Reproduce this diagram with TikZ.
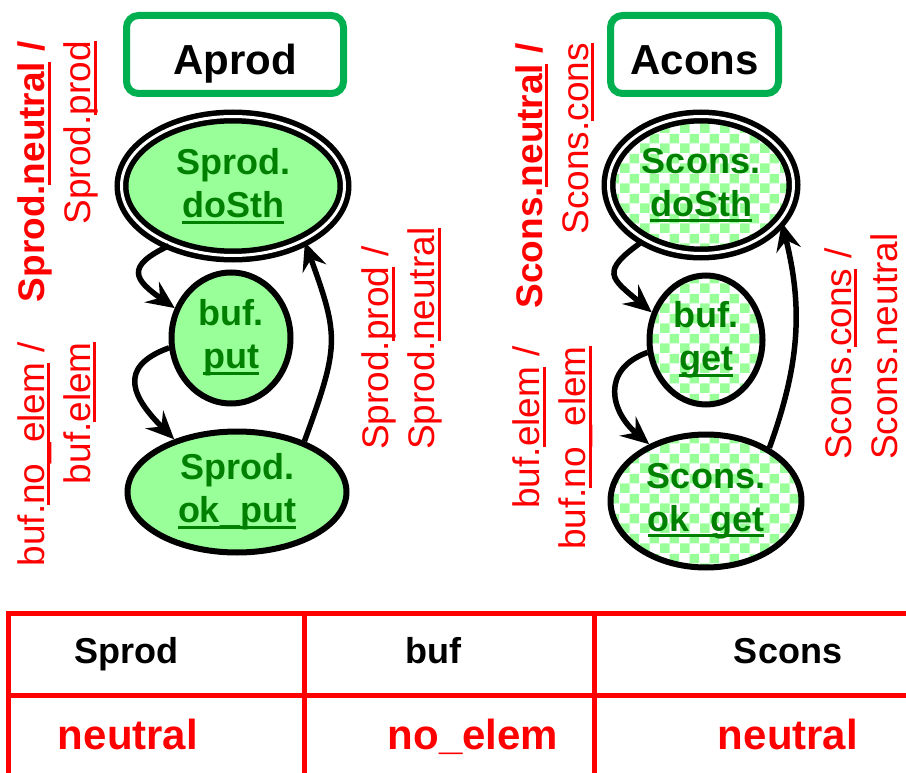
\documentclass[tikz,border=0pt]{standalone}
\usepackage{fontspec}
\setmainfont{Liberation Sans}
\usepackage{tikz}
\usetikzlibrary{positioning,shapes.geometric,arrows.meta,patterns.meta}

\definecolor{boxgreen}{RGB}{0,176,80}
\definecolor{textgreen}{RGB}{0,128,0}
\definecolor{lightgreen}{RGB}{153,255,153}

% thick underline in the current colour
\newsavebox{\ulbox}
\newcommand{\ulw}[1]{\sbox{\ulbox}{#1}\rlap{\rule[-6pt]{\wd\ulbox}{3pt}}\usebox{\ulbox}}

% checkerboard fill for the consumer places
\tikzdeclarepattern{
  name=checks,
  type=uncolored,
  bounding box={(0pt,0pt) and (20pt,20pt)},
  tile size={(20pt,20pt)},
  code={
    \fill (0pt,0pt) rectangle (10pt,10pt);
    \fill (10pt,10pt) rectangle (20pt,20pt);
  }
}

\begin{document}
\begin{tikzpicture}[x=1pt,y=1pt]
        \tikzstyle{procbox} = [rectangle, rounded corners=12pt, draw=boxgreen, line width=7pt, minimum width=217pt, minimum height=78pt, text height=40pt, text depth=0pt, font=\fontsize{42}{48}\selectfont\bfseries]
        \tikzstyle{place} = [ellipse, draw=black, line width=6pt, fill=lightgreen, text=textgreen, align=center, inner sep=0pt, font=\fontsize{36}{43}\selectfont\bfseries]
        \tikzstyle{checkplace} = [place, fill=none, pattern=checks, pattern color=lightgreen]
        \tikzstyle{doubleplace} = [line width=5.5pt, double, double distance=3pt]
        \tikzstyle{tlabel} = [red, rotate=90, inner sep=0pt, font=\fontsize{37}{46}\selectfont]
        \tikzstyle{arrow} = [line width=5.5pt, -{Stealth[length=28pt,width=25pt,inset=10pt]}]
        \tikzstyle{tabline} = [red, line width=5pt, line join=miter]
        \tikzstyle{headcell} = [anchor=base, inner sep=0pt, font=\fontsize{36}{42}\selectfont\bfseries]
        \tikzstyle{valcell} = [anchor=base, inner sep=0pt, red, font=\fontsize{42}{48}\selectfont\bfseries]

        \useasboundingbox (0,0) rectangle (906,-773);

        % producer
        \node (aprod) [procbox] at (235,-54.5) {Aprod};
        \node (sd) [place, doubleplace, minimum width=223pt, minimum height=139pt] at (233,-186) {Sprod.\\\ulw{doSth}};
        \node (bp) [place, minimum width=119pt, minimum height=131pt] at (231,-338) {buf.\\\ulw{put}};
        \node (op) [place, minimum width=219pt, minimum height=121pt] at (237,-492) {Sprod.\\\ulw{ok\_put}};

        \draw [arrow] (sd.223) to[out=205, in=145, looseness=2] (bp.152);
        \draw [arrow] (bp.189) to[out=200, in=135, looseness=1.6] (op.140);
        \draw [arrow] (op.37) to[out=70, in=-70, looseness=1.3] (sd.322);

        \node (lt) [tlabel, align=right, anchor=east] at (58,-41) {{\bfseries Sprod.\ulw{neutral} /}\\Sprod.\ulw{prod}};
        \node (lb) [tlabel, align=right, anchor=east] at (57,-342) {buf.\ulw{no\_elem} /\\buf.\ulw{elem}};
        \node (lm) [tlabel, align=left, anchor=west] at (402,-450) {Sprod.\ulw{prod} /\\Sprod.\ulw{neutral}};

        % consumer
        \node (acons) [procbox, minimum width=168pt] at (694.5,-54.5) {Acons};
        \node (sc) [checkplace, doubleplace, minimum width=185pt, minimum height=137pt] at (701,-185) {Scons.\\\ulw{doSth}};
        \node (bg) [checkplace, minimum width=113pt, minimum height=129pt] at (706,-340) {buf.\\\ulw{get}};
        \node (og) [checkplace, minimum width=191pt, minimum height=133pt] at (706,-501) {Scons.\\\ulw{ok\_get}};

        \draw [arrow] (sc.224) to[out=215, in=140, looseness=1.9] (bg.153);
        \draw [arrow] (bg.192) to[out=200, in=140, looseness=1.4] (og.135);
        \draw [arrow] (og.40) to[out=70, in=-76, looseness=1] (sc.335);

        \node (rt) [tlabel, align=right, anchor=east] at (555,-43) {{\bfseries Scons.\ulw{neutral} /}\\Scons.\ulw{cons}};
        \node (rb) [tlabel, align=right, anchor=east] at (553,-346) {buf.\ulw{elem} /\\buf.\ulw{no\_elem}};
        \node (rr) [tlabel, align=left, anchor=west] at (861,-460) {Scons.\ulw{cons} /\\Scons.neutral};

        % state table
        \draw [tabline] (906,-613) -- (8,-613) -- (8,-773);
        \draw [tabline] (8,-695) -- (906,-695);
        \draw [tabline] (304,-613) -- (304,-773);
        \draw [tabline] (594,-613) -- (594,-773);

        \node (hsprod) [headcell] at (126,-663) {Sprod};
        \node (hbuf) [headcell] at (433,-663) {buf};
        \node (hscons) [headcell] at (788,-663) {Scons};
        \node (vsprod) [valcell] at (128,-749) {neutral};
        \node (vbuf) [valcell] at (473,-749) {no\_elem};
        \node (vscons) [valcell] at (788,-749) {neutral};
    \end{tikzpicture}
\end{document}
